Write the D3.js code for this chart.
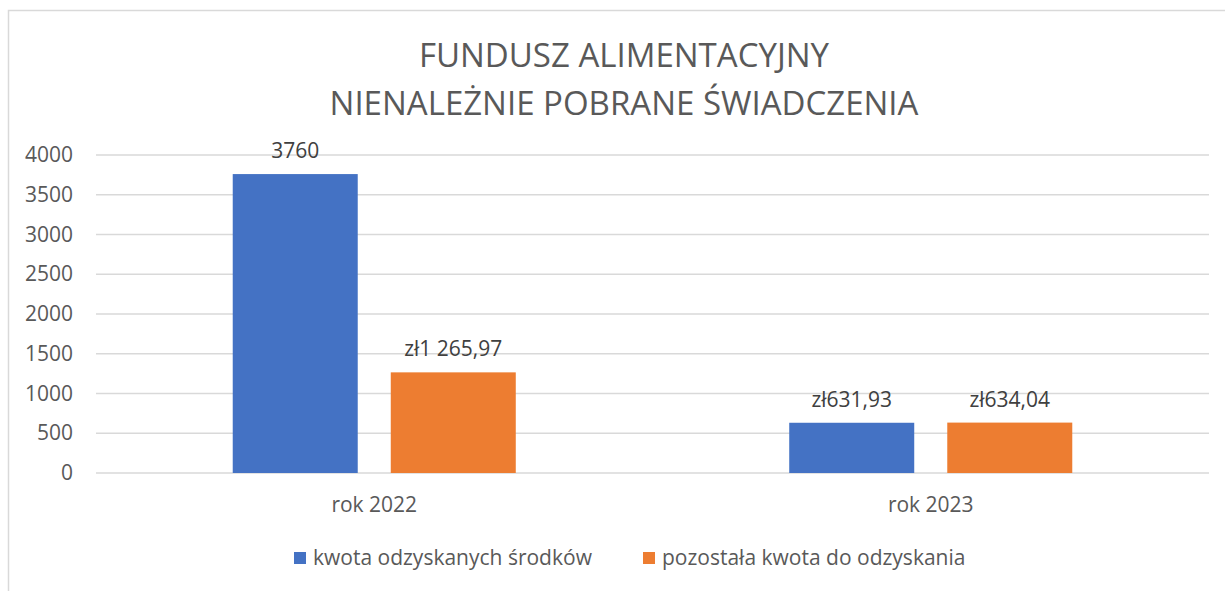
<!DOCTYPE html>
<html>
<head>
<meta charset="utf-8">
<script src="https://cdn.jsdelivr.net/npm/d3@7"></script>
<style>
    body { margin: 0; background: #fff; }
    text { font-family: "Open Sans", "Noto Sans", sans-serif; fill: #595959; }
</style>
</head>
<body>
<svg id="chart" width="1225" height="591"></svg>
<script>
// Chart data
const titleLines = ["FUNDUSZ ALIMENTACYJNY", "NIENALEŻNIE POBRANE ŚWIADCZENIA"];
const categories = ["rok 2022", "rok 2023"];
const seriesNames = ["kwota odzyskanych środków", "pozostała kwota do odzyskania"];
const recovered = [3760, 631.93];
const remaining = [1265.97, 634.04];
const recoveredLabels = ["3760", "zł631,93"];
const remainingLabels = ["zł1 265,97", "zł634,04"];
const yTicks = [0, 500, 1000, 1500, 2000, 2500, 3000, 3500, 4000];

const colors = ["#4472c4", "#ed7d31"];

const svg = d3.select("#chart");

// outer chart frame (cropped at right/bottom)
svg.append("rect")
    .attr("x", 8.5).attr("y", 10.5)
    .attr("width", 1300).attr("height", 700)
    .attr("fill", "none")
    .attr("stroke", "#d9d9d9")
    .attr("stroke-width", 1.5);

const plot = { left: 96, right: 1209, top: 155, bottom: 473 };

const x0 = d3.scaleBand()
    .domain(categories)
    .range([plot.left, plot.right]);

const x1 = d3.scaleBand()
    .domain(seriesNames)
    .range([x0.bandwidth() * 0.2457, x0.bandwidth() * 0.7543])
    .paddingInner(0.209);

const y = d3.scaleLinear()
    .domain([0, 4000])
    .range([plot.bottom, plot.top]);

// title
svg.append("g").selectAll("text")
    .data(titleLines)
    .enter()
    .append("text")
    .attr("x", 624)
    .attr("y", (d, i) => 67 + i * 48)
    .attr("text-anchor", "middle")
    .style("font-size", "33px")
    .text(d => d);

// gridlines
svg.append("g").selectAll("line")
    .data(yTicks)
    .enter()
    .append("line")
    .attr("x1", plot.left)
    .attr("x2", plot.right)
    .attr("y1", d => y(d))
    .attr("y2", d => y(d))
    .attr("stroke", "#d9d9d9")
    .attr("stroke-width", 1.5);

// y axis labels
const yAxis = svg.append("g")
    .attr("transform", `translate(${plot.left},0)`)
    .call(d3.axisLeft(y).tickValues(yTicks).tickSize(0).tickPadding(23).tickFormat(d3.format("d")));
yAxis.select(".domain").remove();
yAxis.selectAll("text")
    .style("font-size", "21px")
    .style("font-family", "\"Open Sans\", sans-serif")
    .attr("fill", "#595959");

// bars
const rows = categories.map((c, i) => ({
    cat: c,
    vals: [
        { s: seriesNames[0], v: recovered[i], label: recoveredLabels[i], color: colors[0] },
        { s: seriesNames[1], v: remaining[i], label: remainingLabels[i], color: colors[1] }
    ]
}));

const groups = svg.append("g").selectAll("g")
    .data(rows)
    .enter()
    .append("g")
    .attr("transform", d => `translate(${x0(d.cat)},0)`);

groups.selectAll("rect")
    .data(d => d.vals)
    .enter()
    .append("rect")
    .attr("x", d => x1(d.s))
    .attr("width", x1.bandwidth())
    .attr("y", d => y(d.v))
    .attr("height", d => y(0) - y(d.v))
    .attr("fill", d => d.color);

groups.selectAll("text")
    .data(d => d.vals)
    .enter()
    .append("text")
    .attr("x", d => x1(d.s) + x1.bandwidth() / 2)
    .attr("y", d => y(d.v) - 16)
    .attr("text-anchor", "middle")
    .style("font-size", "21px")
    .style("fill", "#404040")
    .text(d => d.label);

// category labels
svg.append("g").selectAll("text")
    .data(categories)
    .enter()
    .append("text")
    .attr("x", d => x0(d) + x0.bandwidth() / 2)
    .attr("y", 512)
    .attr("text-anchor", "middle")
    .style("font-size", "21px")
    .text(d => d);

// legend
const legendX = [294, 643];
const legend = svg.append("g").selectAll("g")
    .data(seriesNames)
    .enter()
    .append("g")
    .attr("transform", (d, i) => `translate(${legendX[i]},552)`);

legend.append("rect")
    .attr("width", 12).attr("height", 12)
    .attr("fill", (d, i) => colors[i]);

legend.append("text")
    .attr("x", 19)
    .attr("y", 13)
    .style("font-size", "21px")
    .text(d => d);
</script>
</body>
</html>
